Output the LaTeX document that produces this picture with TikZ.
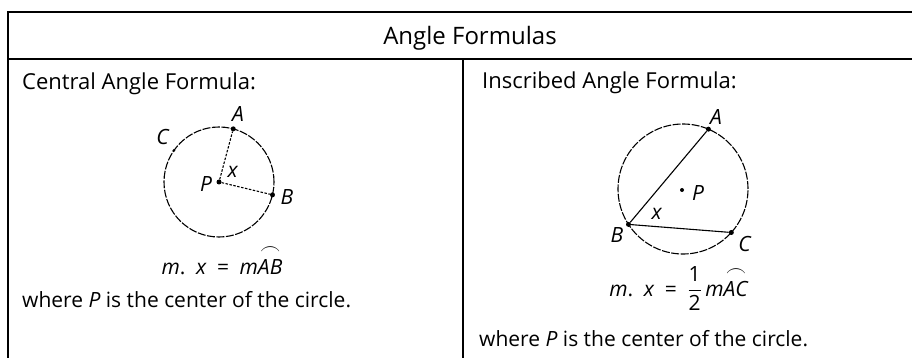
\documentclass[tikz,border=0pt]{standalone}
\usepackage{amsmath}
\usepackage{fontspec}
\setmainfont{Open Sans}
\usetikzlibrary{calc}

\begin{document}
\begin{tikzpicture}[x=1pt, y=-1pt,
        every node/.style={inner sep=0pt, font=\fontsize{21}{25}\selectfont},
        dot/.style={circle, fill=black, minimum size=5pt, inner sep=0pt},
        rim/.style={line width=1.1pt, dash pattern=on 8pt off 1.5pt},
        spoke/.style={line width=1.1pt, dash pattern=on 2.5pt off 1.5pt}]
                \useasboundingbox (0,0) rectangle (912,358);
                % table frame
                \draw[line width=1.8pt] (8,12) -- (912,12);
                \draw[line width=1.8pt] (8,59) -- (912,59);
                \draw[line width=1.4pt] (8,11.1) -- (8,358);
                \draw[line width=1.1pt] (463,59) -- (463,358);
                \node[anchor=base, font=\fontsize{24}{28}\selectfont] (title) at (470,45) {Angle Formulas};
                \node[anchor=base west, font=\fontsize{22}{26}\selectfont] (central) at (22,90) {Central Angle Formula:};
                \node[anchor=base west, font=\fontsize{22}{26}\selectfont] (inscribed) at (482,89) {Inscribed Angle Formula:};
                % central angle
                \coordinate (P1) at (219,182);
                \draw[rim] (P1) circle[radius=55pt];
                \node[dot] (p1) at (P1) {};
                \node[dot] (a1) at ($(P1)+(75:55pt)$) {};
                \node[dot] (b1) at ($(P1)+(-13.5:55pt)$) {};
                \node[dot, minimum size=3pt] (c1) at ($(P1)+(145:55pt)$) {};
                \draw[spoke] (p1) -- (a1);
                \draw[spoke] (p1) -- (b1);
                \node (la1) at (238,114) {\textit{A}};
                \node (lb1) at (287,197) {\textit{B}};
                \node (lc1) at (163,137) {\textit{C}};
                \node (lp1) at (206,184) {\textit{P}};
                \node (lx1) at (233,172) {\textit{x}};
                % inscribed angle
                \coordinate (P2) at (683,189);
                \draw[rim] (P2) circle[radius=65pt];
                \node[dot, minimum size=4pt] (p2) at (682,190) {};
                \node[dot] (a2) at ($(P2)+(67:65pt)$) {};
                \node[dot] (b2) at ($(P2)+(213:65pt)$) {};
                \node[dot] (c2) at ($(P2)+(-42:65pt)$) {};
                \draw[line width=1.1pt] (b2) -- (a2);
                \draw[line width=1.1pt] (b2) -- (c2);
                \node (la2) at (716,117) {\textit{A}};
                \node (lb2) at (617,235) {\textit{B}};
                \node (lc2) at (745,244) {\textit{C}};
                \node (lp2) at (698,193) {\textit{P}};
                \node (lx2) at (657,214) {\textit{x}};
                % formulas
                \node[anchor=base] (f1) at (222,274) {\textit{m}.\enspace\textit{x}\enspace=\enspace\textit{m}$\overset{\textstyle\frown}{\text{\textit{AB}}}$};
                \node[anchor=base] (f2) at (679,296) {\textit{m}.\enspace\textit{x}\enspace=\enspace$\dfrac{\text{1}}{\text{2}}$\,\textit{m}$\overset{\textstyle\frown}{\text{\textit{AC}}}$};
                \node[anchor=base west] (w1) at (22,307) {where \textit{P} is the center of the circle.};
                \node[anchor=base west] (w2) at (479,346) {where \textit{P} is the center of the circle.};
                \end{tikzpicture}
\end{document}
